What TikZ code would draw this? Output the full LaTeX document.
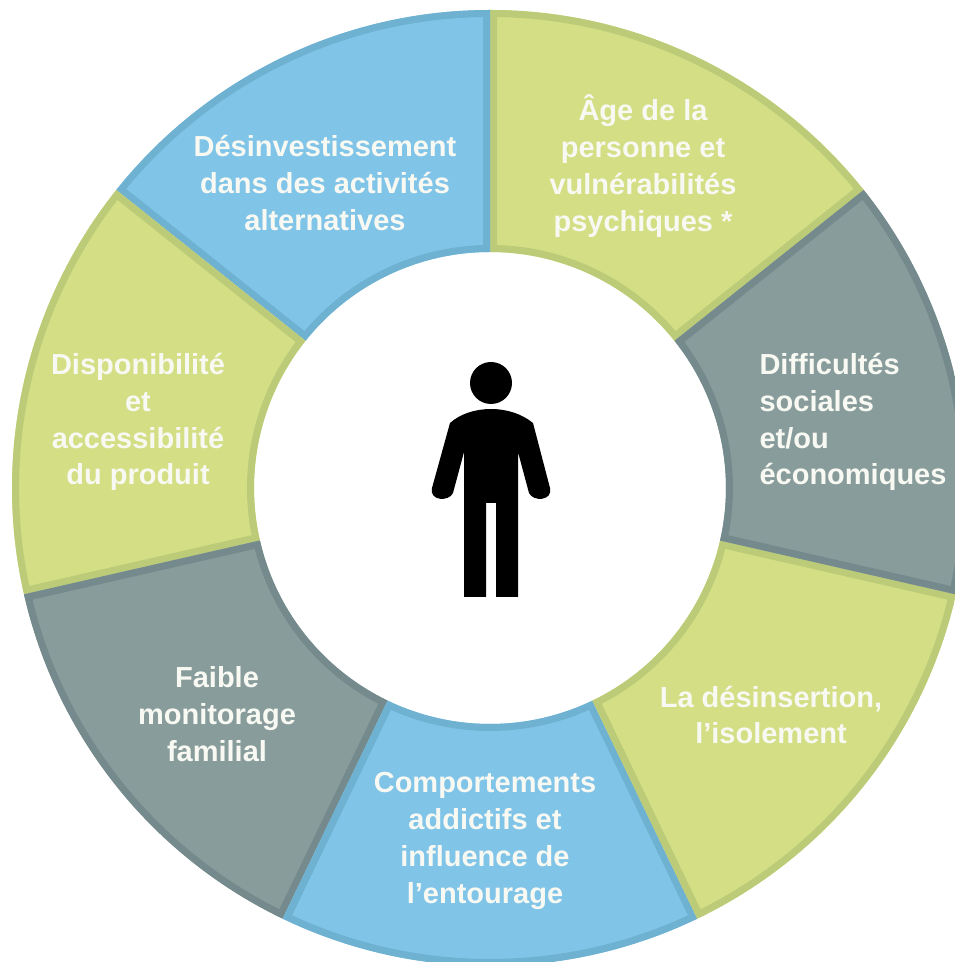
\documentclass[tikz,border=0pt]{standalone}
\usepackage{fontspec}
\setmainfont{Liberation Sans}
\definecolor{bluefill}{HTML}{80C4E8}
\definecolor{blueedge}{HTML}{6FB1D0}
\definecolor{greenfill}{HTML}{D3DE85}
\definecolor{greenedge}{HTML}{BCCB78}
\definecolor{grayfill}{HTML}{889C9C}
\definecolor{grayedge}{HTML}{748A8C}
\definecolor{labelwhite}{HTML}{F8F9F2}
\tikzset{
  seglabel/.style={text=labelwhite,font=\fontsize{29}{36.8}\selectfont\bfseries,align=center,inner sep=0pt},
  segleft/.style={seglabel,align=left},
}
\newcommand{\wedgeseg}[4]{%
  \begin{scope}
    \def\segpath{(#1:236) arc[start angle=#1,end angle=#2,radius=236] -- (#2:478) arc[start angle=#2,end angle=#1,radius=478] -- cycle}
    \fill[#3] \segpath;
    \clip \segpath;
    \draw[#4,line width=14,line join=miter] \segpath;
  \end{scope}}
\begin{document}
\begin{tikzpicture}[x=1pt,y=1pt]
\useasboundingbox (0,0) rectangle (955,962);
\clip (0,0) rectangle (955,962);
\fill[white] (0,0) rectangle (955,962);
\begin{scope}[shift={(490,474)}]
  \wedgeseg{38.57}{90}{greenfill}{greenedge}
  \wedgeseg{90}{141.43}{bluefill}{blueedge}
  \wedgeseg{141.43}{192.86}{greenfill}{greenedge}
  \wedgeseg{192.86}{244.29}{grayfill}{grayedge}
  \wedgeseg{244.29}{295.71}{bluefill}{blueedge}
  \wedgeseg{295.71}{347.14}{greenfill}{greenedge}
  \wedgeseg{347.14}{398.57}{grayfill}{grayedge}
\end{scope}
% person (reference pixels: y measured from top)
\begin{scope}[shift={(0,962)},y=-1pt]
  \fill[black] (491,383) circle[radius=21];
  \fill[black] (491,409) .. controls (475,409) and (460,414) .. (450,423)
    -- (432,488) .. controls (429,501) and (449,502) .. (453,493)
    -- (464,452) -- (464,597) -- (486,597) -- (486,503) -- (496,503)
    -- (496,597) -- (518,597) -- (518,452)
    -- (529,493) .. controls (533,502) and (553,501) .. (550,488)
    -- (533,423) .. controls (522,414) and (507,409) .. (491,409) -- cycle;
\end{scope}
\node[seglabel] (a) at (325,779) {Désinvestissement\\dans des activités\\alternatives};
\node[seglabel] (b) at (643,796) {Âge de la\\personne et\\vulnérabilités\\psychiques *};
\node[segleft] (c) at (853,540) {Difficultés\\sociales\\et/ou\\économiques};
\node[seglabel] (d) at (771,247) {La désinsertion,\\l’isolement};
\node[seglabel] (e) at (485,121) {Comportements\\addictifs et\\influence de\\l’entourage};
\node[seglabel] (f) at (217,248) {Faible\\monitorage\\familial};
\node[seglabel] (g) at (138,540) {Disponibilité\\et\\accessibilité\\du produit};
\end{tikzpicture}
\end{document}
